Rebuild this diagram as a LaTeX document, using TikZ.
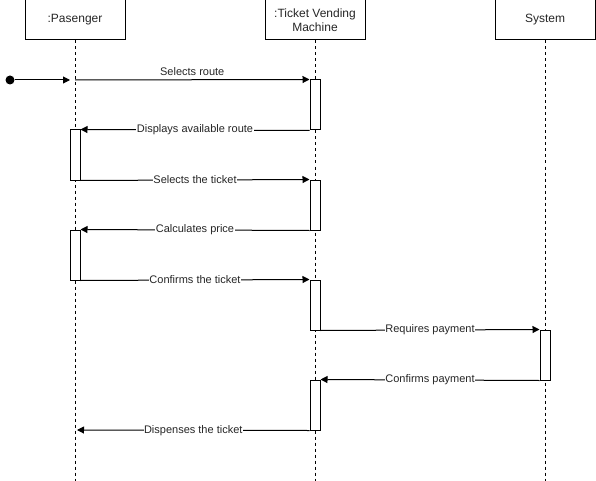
\documentclass[tikz,border=0pt]{standalone}
\usepackage{fontspec}
\setmainfont{Liberation Sans}
\usetikzlibrary{arrows.meta}
\begin{document}
\begin{tikzpicture}[x=1pt,y=-1pt,
  head/.style={draw,line width=1pt,minimum width=100pt,minimum height=40pt,inner sep=0pt,align=center,font=\fontsize{12}{14}\selectfont,text=black!85},
  life/.style={draw,line width=0.9pt,dash pattern=on 3pt off 3pt},
  act/.style={draw,fill=white,line width=1pt,minimum width=10pt,minimum height=50pt,inner sep=0pt},
  msg/.style={draw,line width=1pt,-{Triangle[length=7pt,width=7pt]}},
  lab/.style={fill=white,inner sep=0.5pt,font=\fontsize{11}{13}\selectfont,text=black!85}]
\useasboundingbox (0,0) rectangle (596,481);
% headers
\node[head] (p) at (75,20) {:Pasenger};
\node[head] (t) at (315,20) {:Ticket Vending\\Machine};
\node[head] (s) at (545,20) {System};
% lifeline ends
\coordinate (pe) at (75,481);
\coordinate (te) at (315,481);
\coordinate (se) at (545,481);
\draw[life] (p.south) -- (pe);
\draw[life] (t.south) -- (te);
\draw[life] (s.south) -- (se);
% activations
\node[act] (t1) at (315,105) {};
\node[act] (p1) at (75,155) {};
\node[act] (t2) at (315,205) {};
\node[act] (p2) at (75,255) {};
\node[act] (t3) at (315,305) {};
\node[act] (s1) at (545,355) {};
\node[act] (t4) at (315,405) {};
% start
\node[circle,fill=black,minimum size=9pt,inner sep=0pt] (start) at (10,80) {};
\coordinate (pin) at (70,80);
\draw[msg] (start) -- (pin);
% messages
\coordinate (m1s) at (75,80);
\draw[msg] (m1s) -- node[lab,above=3pt,fill=none] {Selects route} (t1.north west);
\draw[msg] (t1.south west) -- node[lab] {Displays available route} (p1.north east);
\draw[msg] (p1.south east) -- node[lab] {Selects the ticket} (t2.north west);
\draw[msg] (t2.south west) -- node[lab] {Calculates price} (p2.north east);
\draw[msg] (p2.south east) -- node[lab] {Confirms the ticket} (t3.north west);
\draw[msg] (t3.south east) -- node[lab] {Requires payment} (s1.north west);
\draw[msg] (s1.south west) -- node[lab] {Confirms payment} (t4.north east);
\coordinate (m8e) at (77,430);
\draw[msg] (t4.south west) -- node[lab] {Dispenses the ticket} (m8e);
\end{tikzpicture}
\end{document}
